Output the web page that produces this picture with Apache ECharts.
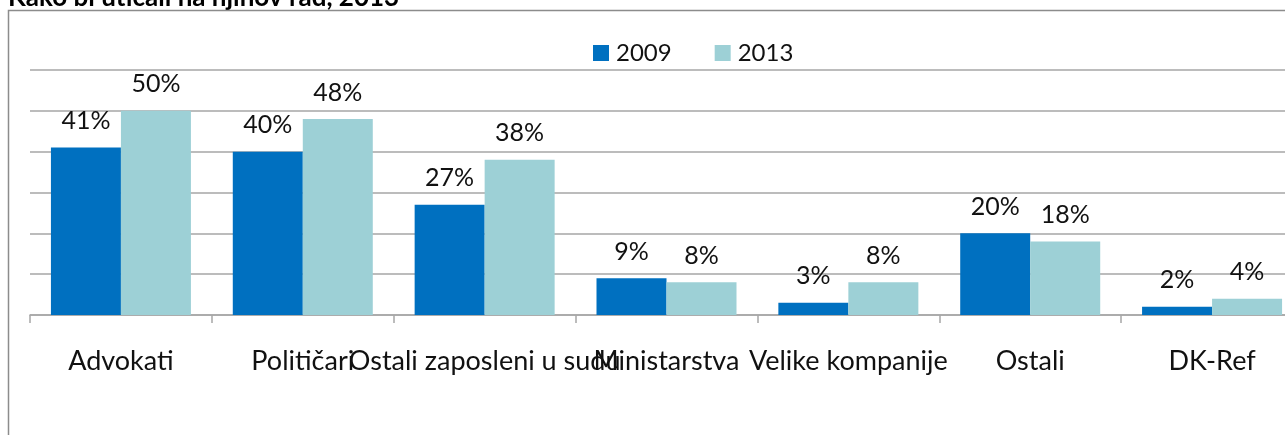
<!DOCTYPE html>
<html>
<head>
<meta charset="utf-8">
<script src="https://cdn.jsdelivr.net/npm/echarts@6/dist/echarts.min.js"></script>
<style>
  html, body { margin: 0; padding: 0; background: #ffffff; overflow: hidden; width: 1285px; height: 435px; }
  #chart { width: 1310px; height: 435px; }
</style>
</head>
<body>
<div id="chart"></div>
<script>
// Categories and survey shares (%) for the two years
var categories = ['Advokati', 'Političari', 'Ostali zaposleni u sudu', 'Ministarstva', 'Velike kompanije', 'Ostali', 'DK-Ref'];
var values2009 = [41, 40, 27, 9, 3, 20, 2];
var values2013 = [50, 48, 38, 8, 8, 18, 4];
var seriesNames = ['2009', '2013'];
var titleText = 'Kako bi uticali na njihov rad, 2013';

var FONT = 'Lato';
var gridColor = '#a6a6a6';
var textColor = '#111111';

var chart = echarts.init(document.getElementById('chart'), null, { renderer: 'canvas' });

function valueLabel() {
  return {
    show: true,
    position: 'top',
    distance: 14,
    formatter: '{c}%',
    fontFamily: FONT,
    fontSize: 25,
    color: textColor
  };
}

chart.setOption({
  animation: false,
  backgroundColor: '#ffffff',
  graphic: [
    {
      type: 'text',
      left: 8,
      top: -15,
      style: {
        text: titleText,
        font: 'bold 26px ' + FONT,
        fill: '#000000'
      }
    },
    {
      type: 'polyline',
      shape: { points: [[8.5, 440], [8.5, 10.5], [1320, 10.5]] },
      style: { stroke: '#8c8c8c', lineWidth: 1.5, fill: null }
    }
  ],
  legend: {
    data: seriesNames,
    top: 36,
    left: 588,
    itemWidth: 16,
    itemHeight: 16,
    itemGap: 43,
    icon: 'rect',
    textStyle: { fontFamily: FONT, fontSize: 24, color: textColor, padding: [0, 0, 0, 2] }
  },
  grid: { left: 30, top: 70, width: 1273, height: 245, containLabel: false },
  xAxis: {
    type: 'category',
    data: categories,
    axisLine: { show: true, lineStyle: { color: gridColor, width: 1.5 } },
    axisTick: { show: true, length: 8, alignWithLabel: false, lineStyle: { color: gridColor, width: 1.5 } },
    axisLabel: {
      interval: 0,
      margin: 33,
      fontFamily: FONT,
      fontSize: 27,
      color: textColor,
      hideOverlap: false
    }
  },
  yAxis: {
    type: 'value',
    min: 0,
    max: 60,
    interval: 10,
    axisLabel: { show: false },
    axisLine: { show: false },
    axisTick: { show: false },
    splitLine: { show: true, lineStyle: { color: gridColor, width: 1.5 } }
  },
  series: [
    {
      name: seriesNames[0],
      type: 'bar',
      data: values2009,
      barWidth: 70,
      barGap: '0%',
      itemStyle: { color: '#0070c0' },
      label: valueLabel()
    },
    {
      name: seriesNames[1],
      type: 'bar',
      data: values2013,
      barWidth: 70,
      barGap: '0%',
      itemStyle: { color: '#9dd0d6' },
      label: valueLabel()
    }
  ]
});
</script>
</body>
</html>
